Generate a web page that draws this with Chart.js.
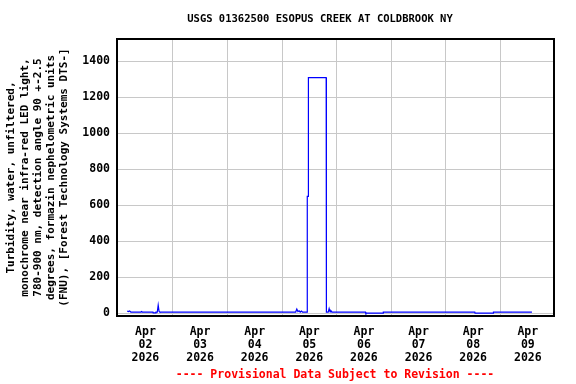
<!DOCTYPE html>
<html>
<head>
<meta charset="utf-8">
<script src="https://cdn.jsdelivr.net/npm/chart.js@4/dist/chart.umd.min.js"></script>
<style>
  body { margin: 0; background: #fff; }
  #wrap { position: relative; width: 576px; height: 384px; overflow: hidden; }
  .lbl { position: absolute; width: 600px; text-align: center; font-family: "DejaVu Sans Mono", monospace; font-weight: bold; white-space: pre; }
  #title { left: 20px; top: 12px; font-size: 10.5px; color: #000; }
  #foot { left: 35px; top: 367px; font-size: 11.5px; color: #ff0000; }
</style>
</head>
<body>
<div id="wrap">
  <canvas id="chart" width="576" height="384"></canvas>
  <div id="title" class="lbl">USGS 01362500 ESOPUS CREEK AT COLDBROOK NY</div>
  <div id="foot" class="lbl">---- Provisional Data Subject to Revision ----</div>
</div>
<script>
// hours since Apr 02 2026 00:00
const hours = [4, 4.5, 5, 5.6, 10, 10.3, 10.6, 15.3, 15.4, 16.5, 16.6, 17.2, 17.6, 18, 18.3,
  78, 78.5, 79, 79.5, 80, 80.5, 81, 83, 83.1, 83.5, 83.6, 91.4, 91.5, 92.3, 92.7, 93.1, 93.5, 94, 95,
  108.7, 108.8, 116.4, 116.5, 156.7, 156.8, 164.8, 164.9, 181.8];
const turbidity = [12, 10, 13, 7, 7, 10, 7, 7, 2, 2, 7, 7, 45, 10, 7,
  7, 24, 10, 14, 6, 12, 7, 7, 650, 650, 1310, 1310, 7, 7, 26, 8, 14, 6, 7,
  7, 1, 1, 6, 6, 1, 1, 6, 6];
const dayLabels = ["02", "03", "04", "05", "06", "07", "08", "09"];
const monthLabel = "Apr";
const yearLabel = "2026";
const yTicks = [0, 200, 400, 600, 800, 1000, 1200, 1400];
const yTitle = [
  "Turbidity, water, unfiltered,",
  "monochrome near infra-red LED light,",
  "780-900 nm, detection angle 90 +-2.5",
  "degrees, formazin nephelometric units",
  "(FNU), [Forest Technology Systems DTS-]"
];

const mono = "'DejaVu Sans Mono', monospace";
const gridGray = "#c8c8c8";

const boxPlugin = {
  id: "box",
  afterDatasetsDraw(chart) {
    const a = chart.chartArea;
    const ctx = chart.ctx;
    ctx.save();
    ctx.strokeStyle = "#000";
    ctx.lineWidth = 2;
    ctx.strokeRect(a.left, a.top, a.right - a.left, a.bottom - a.top);
    ctx.restore();
  }
};

new Chart(document.getElementById("chart"), {
  type: "line",
  data: {
    datasets: [{
      data: hours.map((h, i) => ({ x: h, y: turbidity[i] })),
      borderColor: "#0000ff",
      borderWidth: 1.2,
      pointRadius: 0,
      tension: 0,
      fill: false
    }]
  },
  options: {
    responsive: false,
    animation: false,
    layout: { padding: { top: 39, right: 22, left: 0, bottom: 0 } },
    plugins: { legend: { display: false }, tooltip: { enabled: false } },
    scales: {
      x: {
        type: "linear",
        min: -0.5,
        max: 191.5,
        afterBuildTicks: (scale) => {
          const t = [];
          for (let h = 12; h <= 180; h += 12) t.push({ value: h });
          scale.ticks = t;
        },
        afterFit: (scale) => { scale.height = 68; },
        grid: {
          color: (ctx) => (ctx.tick && ctx.tick.value % 24 === 0) ? gridGray : "rgba(0,0,0,0)",
          lineWidth: 1,
          drawTicks: false
        },
        border: { display: false },
        ticks: {
          autoSkip: false,
          maxRotation: 0,
          padding: 9,
          color: "#000",
          font: { family: mono, size: 11.5, weight: "bold", lineHeight: 1.15 },
          callback: (v) => (v % 24 === 12) ? [monthLabel, dayLabels[(v - 12) / 24], yearLabel] : ""
        }
      },
      y: {
        min: -15,
        max: 1525,
        afterBuildTicks: (scale) => { scale.ticks = yTicks.map(v => ({ value: v })); },
        afterFit: (scale) => { scale.width = 117; },
        grid: { color: gridGray, lineWidth: 1, drawTicks: false },
        border: { display: false },
        ticks: {
          padding: 7,
          color: "#000",
          font: { family: mono, size: 11.5, weight: "bold" },
          callback: (v) => String(v)
        },
        title: {
          display: true,
          text: yTitle,
          color: "#000",
          padding: { top: 5, bottom: 0 },
          font: { family: mono, size: 11, weight: "bold", lineHeight: 1.2 }
        }
      }
    }
  },
  plugins: [boxPlugin]
});
</script>
</body>
</html>
